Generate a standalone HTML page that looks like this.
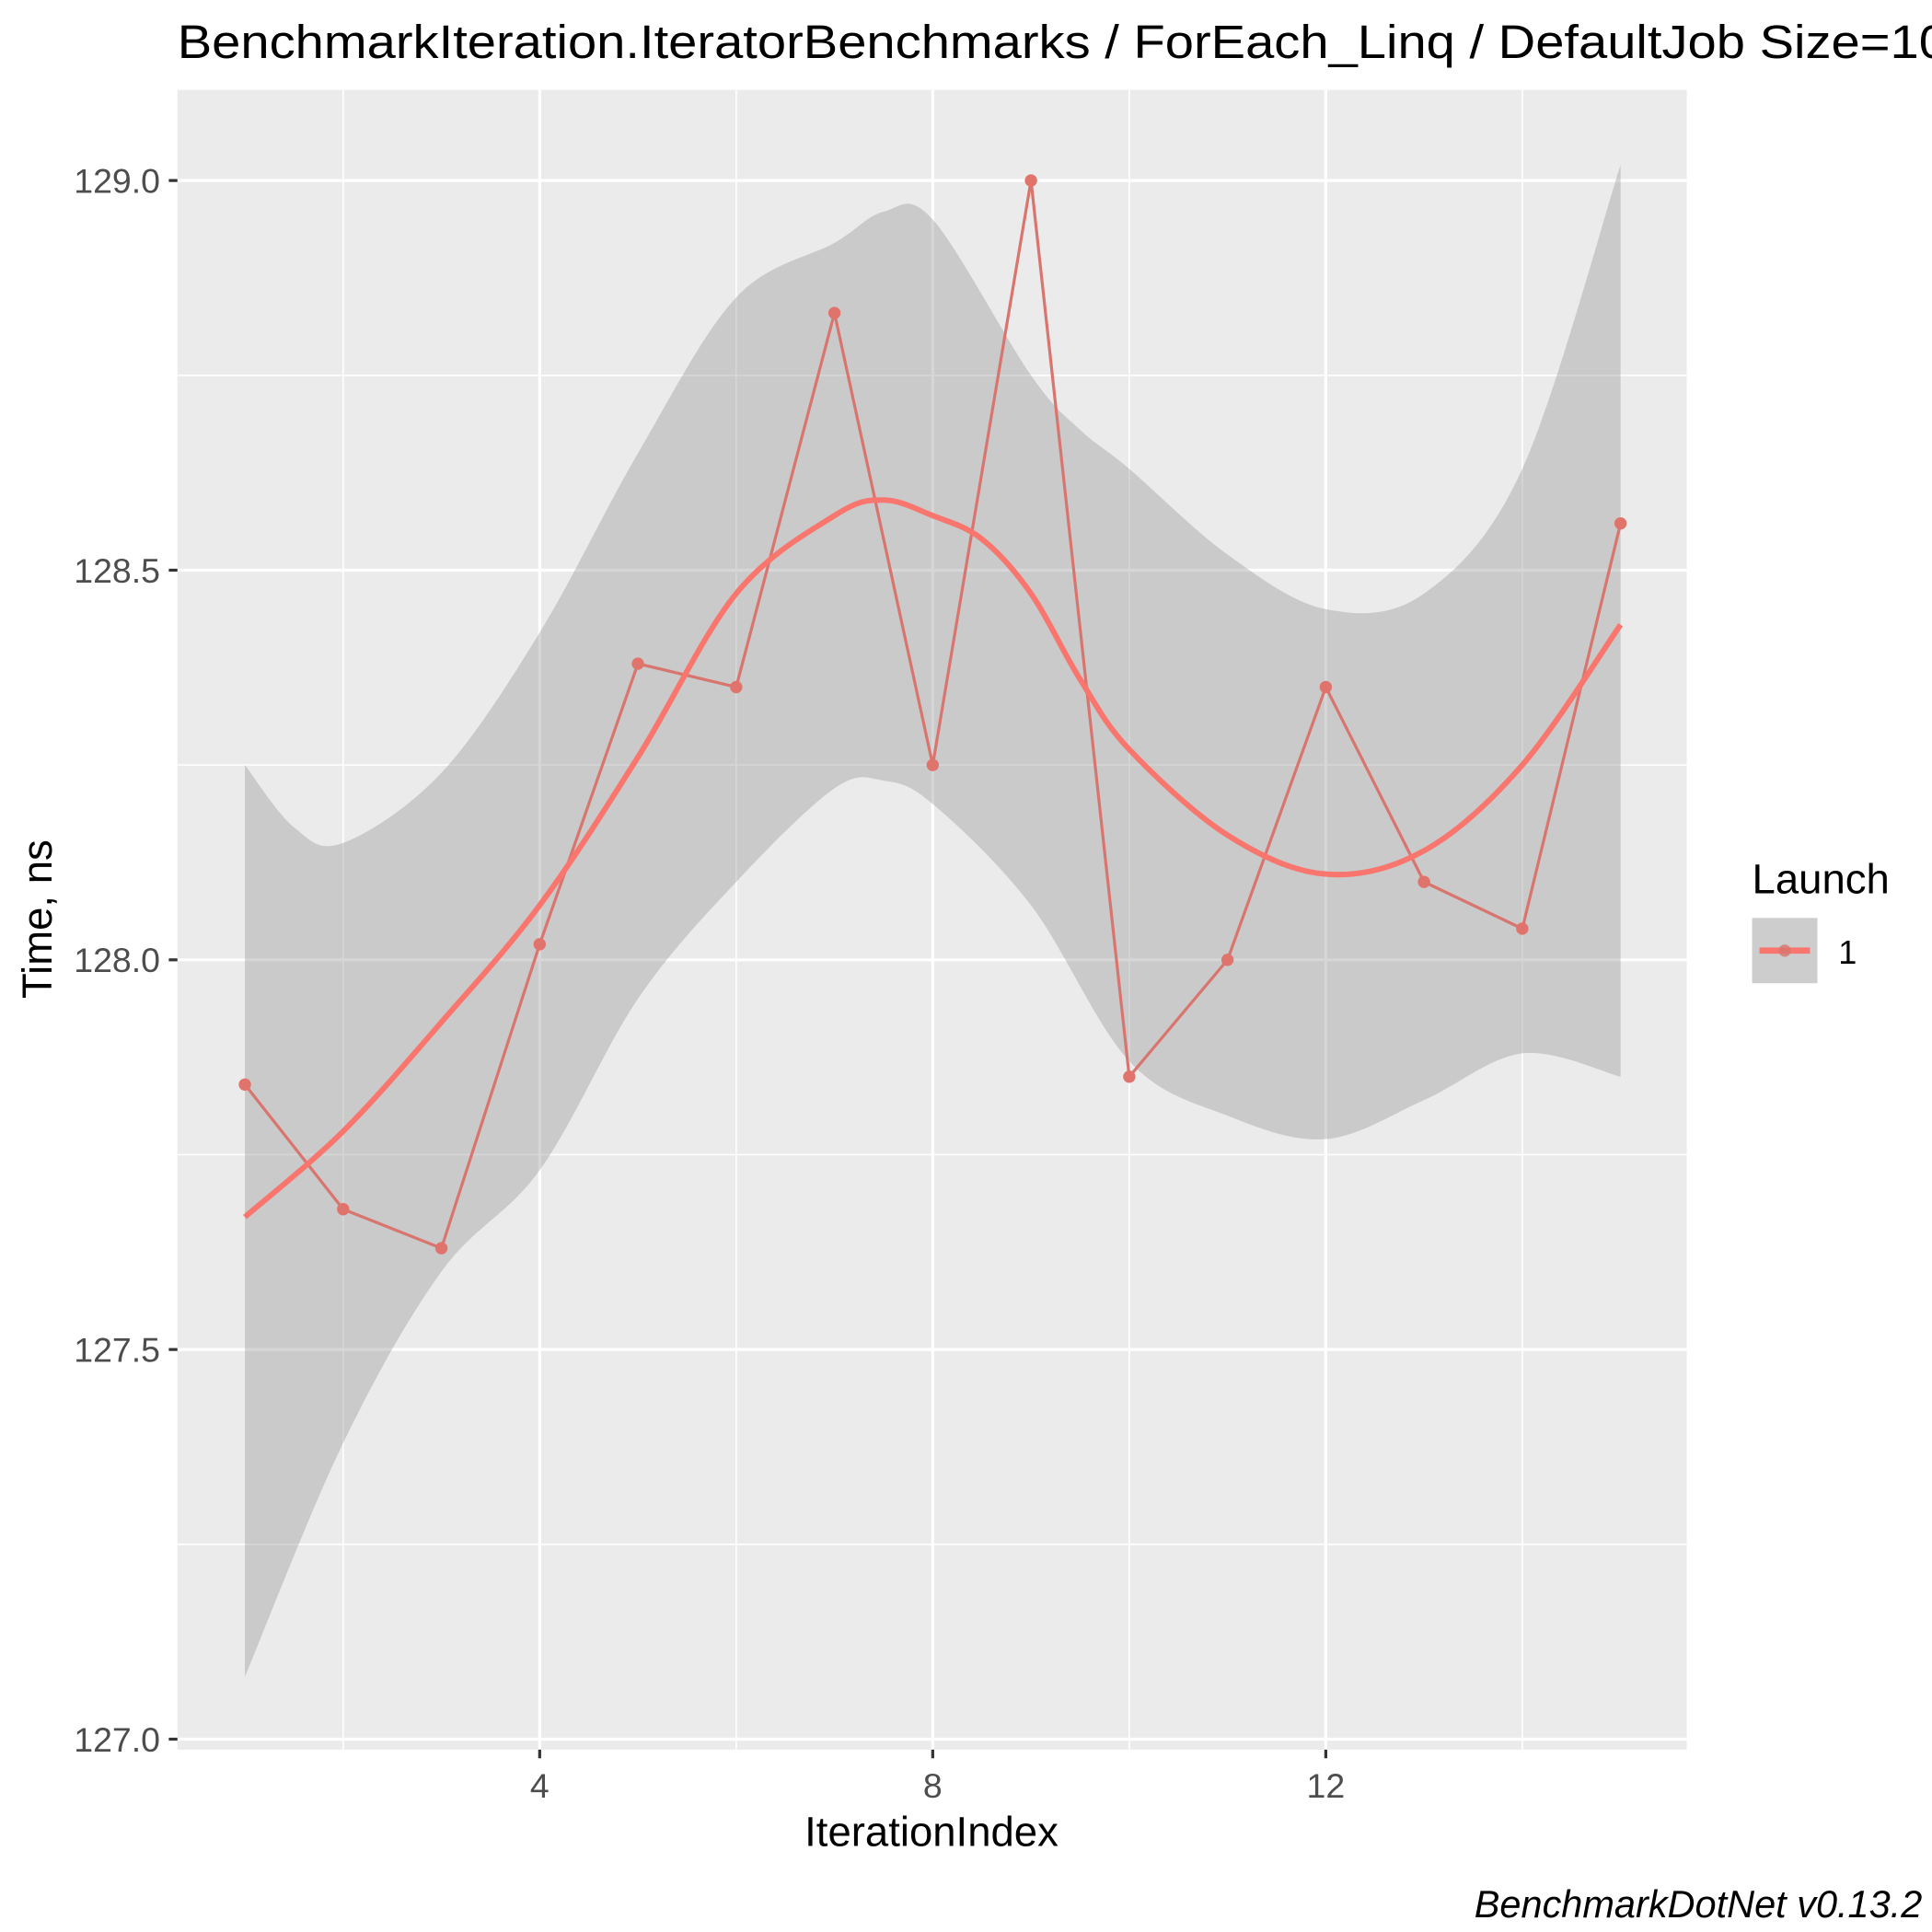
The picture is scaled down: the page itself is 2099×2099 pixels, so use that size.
<!DOCTYPE html>
<html><head><meta charset="utf-8"><style>
html,body{margin:0;padding:0;background:#fff;}
svg{display:block;}
text{font-family:"Liberation Sans",Arial,sans-serif;}
</style></head>
<body>
<svg id="chart" width="2099" height="2099" viewBox="0 0 1568 1568" xmlns="http://www.w3.org/2000/svg">
<rect x="0" y="0" width="1568" height="1568" fill="#fff"/>
<text x="144" y="47" font-size="38" textLength="1460" lengthAdjust="spacingAndGlyphs" fill="#000">BenchmarkIteration.IteratorBenchmarks / ForEach_Linq / DefaultJob Size=100</text>
<rect x="144" y="73" width="1225" height="1347" fill="#ebebeb"/>
<g id="grid"></g>
<g id="marks"></g>
<g id="axes"></g>
<text x="756" y="1498" font-size="34" text-anchor="middle" fill="#000">IterationIndex</text>
<text transform="translate(42,746) rotate(-90)" font-size="34" text-anchor="middle" fill="#000">Time, ns</text>
<g>
<text x="1422" y="725" font-size="34" fill="#000">Launch</text>
<rect x="1422" y="745" width="53" height="53" fill="#cdcdcd"/>
<line x1="1428" y1="771.5" x2="1469" y2="771.5" stroke="#F8766D" stroke-width="5"/>
<circle cx="1448.5" cy="771.5" r="5" fill="#d9756f" opacity="0.8"/>
<text x="1492" y="782" font-size="27" fill="#000">1</text>
</g>
<text x="1560" y="1556" font-size="31" font-style="italic" text-anchor="end" fill="#000">BenchmarkDotNet v0.13.2</text>
</svg>
<script>
const pointX = [1,2,3,4,5,6,7,8,9,10,11,12,13,14,15];
const pointY = [127.84,127.68,127.63,128.02,128.38,128.35,128.83,128.25,129.0,127.85,128.0,128.35,128.1,128.04,128.56];
const smoothX = [1,2,3,4,5,6,7,7.5,8,8.5,9,9.5,10,11,12,13,14,15];
const smoothY = [127.67,127.78,127.92,128.07,128.26,128.47,128.57,128.59,128.57,128.54,128.47,128.36,128.27,128.16,128.11,128.14,128.25,128.43];
const bandX = [1,1.5,2,3,4,5,6,7,7.5,8,9,9.5,10,11,12,13,14,15];
const bandUpper = [128.25,128.17,128.15,128.24,128.42,128.65,128.85,128.92,128.96,128.95,128.75,128.68,128.63,128.52,128.45,128.47,128.63,129.02];
const bandLowerX = [1,2,3,4,5,6,7,7.5,8,9,10,11,12,13,14,15];
const bandLower = [127.08,127.38,127.6,127.73,127.95,128.1,128.22,128.23,128.2,128.07,127.87,127.8,127.77,127.82,127.88,127.85];
const yTicks = [127.0,127.5,128.0,128.5,129.0];
const yTickLabels = ["127.0","127.5","128.0","128.5","129.0"];
const yMinor = [127.25,127.75,128.25,128.75];
const xTicks = [4,8,12];
const xTickLabels = ["4","8","12"];
const xMinor = [2,6,10,14];

const NS="http://www.w3.org/2000/svg";
function sx(v){return 438 + (v-4)*79.75;}
function sy(v){return 779 - (v-128)*632.5;}
function mk(tag,attrs,parent){const e=document.createElementNS(NS,tag);for(const k in attrs)e.setAttribute(k,attrs[k]);parent.appendChild(e);return e;}
function smoothPath(pts,move){
  let d=(move?"M":"L")+pts[0][0]+","+pts[0][1];
  for(let i=0;i<pts.length-1;i++){
    const p0=pts[Math.max(0,i-1)],p1=pts[i],p2=pts[i+1],p3=pts[Math.min(pts.length-1,i+2)];
    const c1=[p1[0]+(p2[0]-p0[0])/6,p1[1]+(p2[1]-p0[1])/6];
    const c2=[p2[0]-(p3[0]-p1[0])/6,p2[1]-(p3[1]-p1[1])/6];
    d+=" C"+c1[0]+","+c1[1]+" "+c2[0]+","+c2[1]+" "+p2[0]+","+p2[1];
  }
  return d;
}
const grid=document.getElementById('grid'),marks=document.getElementById('marks'),axes=document.getElementById('axes');
yMinor.forEach(v=>{const l=mk('line',{x1:144,x2:1369,y1:sy(v),y2:sy(v),stroke:'#fff','stroke-width':1.2},grid);

});
xMinor.forEach(v=>{const l=mk('line',{x1:sx(v),x2:sx(v),y1:73,y2:1420,stroke:'#fff','stroke-width':1.2},grid);

});
yTicks.forEach((v,i)=>{const l=mk('line',{x1:144,x2:1369,y1:sy(v),y2:sy(v),stroke:'#fff','stroke-width':2.4},grid);


const t=mk('line',{x1:137,x2:144,y1:sy(v),y2:sy(v),stroke:'#333','stroke-width':2.4},axes);


const tx=mk('text',{x:130,y:sy(v)+10,'font-size':28,'text-anchor':'end',fill:'#4d4d4d'},axes);tx.textContent=yTickLabels[i];

});
xTicks.forEach((v,i)=>{const l=mk('line',{x1:sx(v),x2:sx(v),y1:73,y2:1420,stroke:'#fff','stroke-width':2.4},grid);


const t=mk('line',{x1:sx(v),x2:sx(v),y1:1420,y2:1427,stroke:'#333','stroke-width':2.4},axes);


const tx=mk('text',{x:sx(v),y:1459,'font-size':28,'text-anchor':'middle',fill:'#4d4d4d'},axes);tx.textContent=xTickLabels[i];

});
const up=bandX.map((x,i)=>[sx(x),sy(bandUpper[i])]);
const lo=bandLowerX.map((x,i)=>[sx(x),sy(bandLower[i])]).reverse();
const rib=mk('path',{d:smoothPath(up,true)+" "+smoothPath(lo,false)+" Z",fill:'#999999','fill-opacity':0.4},marks);


const pl=mk('polyline',{points:pointX.map((x,i)=>sx(x)+","+sy(pointY[i])).join(" "),fill:'none',stroke:'#d9756f','stroke-width':2.4},marks);


const sm=mk('path',{d:smoothPath(smoothX.map((x,i)=>[sx(x),sy(smoothY[i])]),true),fill:'none',stroke:'#F8766D','stroke-width':4.5},marks);


pointX.forEach((x,i)=>{const c=mk('circle',{cx:sx(x),cy:sy(pointY[i]),r:5,fill:'#e0746c'},marks);

});
</script>
</body></html>
